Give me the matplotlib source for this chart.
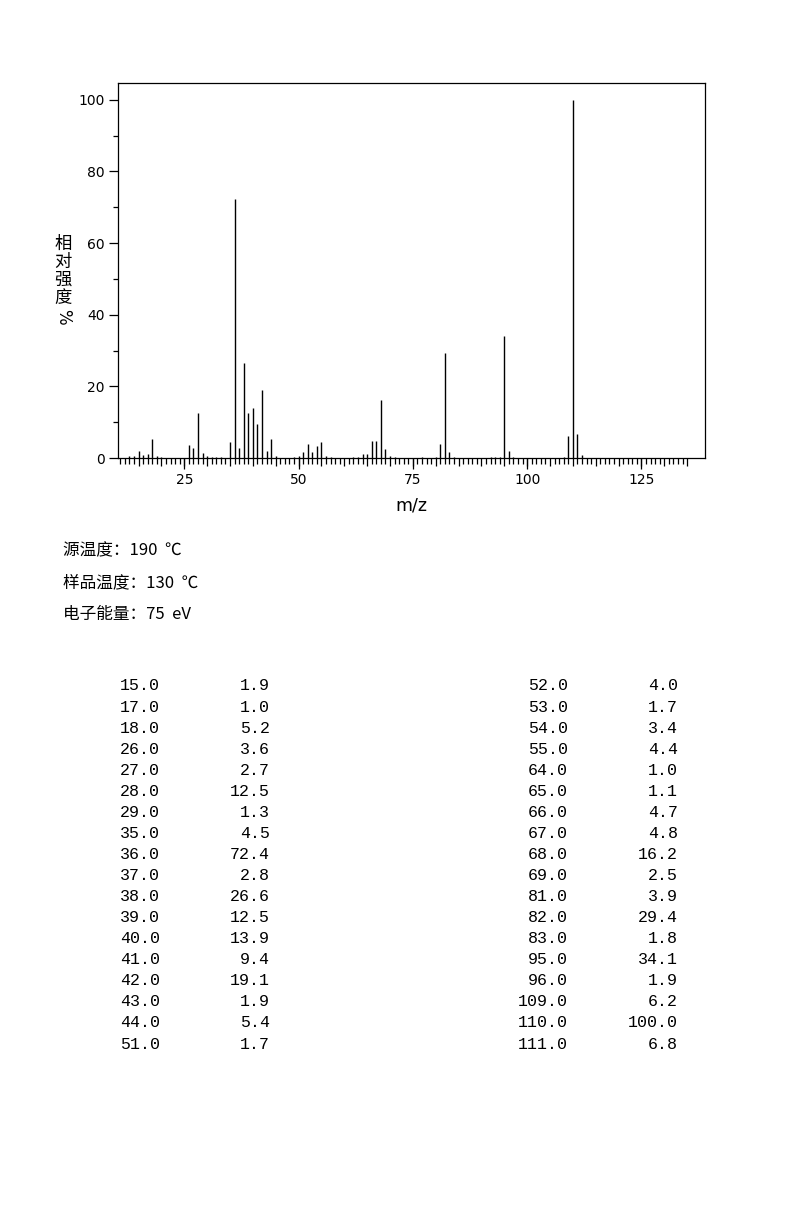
#!/usr/bin/env python3
"""Mass spectrum (EI) with peak table, redrawn with matplotlib."""

import numpy as np
import matplotlib
matplotlib.use("Agg")
import matplotlib.pyplot as plt
from matplotlib.ticker import FixedLocator, NullFormatter

# Peaks listed in the table (m/z, relative intensity %)
mz = [15, 17, 18, 26, 27, 28, 29, 35, 36, 37, 38, 39, 40, 41, 42, 43, 44, 51,
      52, 53, 54, 55, 64, 65, 66, 67, 68, 69, 81, 82, 83, 95, 96, 109, 110, 111]
rel = [1.9, 1.0, 5.2, 3.6, 2.7, 12.5, 1.3, 4.5, 72.4, 2.8, 26.6, 12.5, 13.9, 9.4, 19.1, 1.9, 5.4, 1.7,
       4.0, 1.7, 3.4, 4.4, 1.0, 1.1, 4.7, 4.8, 16.2, 2.5, 3.9, 29.4, 1.8, 34.1, 1.9, 6.2, 100.0, 6.8]

# Weak peaks drawn in the spectrum but not listed (estimated)
mz_weak = [13, 14, 16, 19, 20, 30, 31, 32, 33, 45, 49, 50, 56, 57, 62, 63, 70, 71,
           77, 80, 84, 92, 93, 94, 97, 108, 112]
rel_weak = [0.5, 0.6, 0.7, 0.5, 0.4, 0.5, 0.4, 0.4, 0.3, 0.5, 0.3, 0.5, 0.6, 0.3, 0.3, 0.3, 0.5, 0.2,
            0.2, 0.2, 0.3, 0.3, 0.3, 0.3, 0.3, 0.3, 0.7]

conditions = ["源温度：190  ℃", "样品温度：130  ℃", "电子能量：75  eV"]
ylabel_chars = ["相", "对", "强", "度"]

W, H = 794, 1219
CJK = ["Noto Sans CJK SC", "DejaVu Sans"]


def fx(px):
    return px / W


def fy(py):
    return 1 - py / H


fig = plt.figure(figsize=(W / 100, H / 100), dpi=100)
fig.patch.set_facecolor("white")
ax = fig.add_axes([fx(118), fy(458), fx(705) - fx(118), fy(83) - fy(458)])

ax.vlines(mz, 0, rel, colors="black", linewidth=1.0)
ax.vlines(mz_weak, 0, rel_weak, colors="black", linewidth=1.0)

ax.set_xlim(10.5, 138.9)
ax.set_ylim(0, 104.7)

for sp in ax.spines.values():
    sp.set_linewidth(0.9)

# x: minor every 1, medium every 5, long + labels every 25
ax.xaxis.set_major_locator(FixedLocator(np.arange(15, 136, 5)))
ax.xaxis.set_major_formatter(NullFormatter())
ax.xaxis.set_minor_locator(FixedLocator(np.arange(11, 136, 1)))
ax.tick_params(axis="x", which="major", direction="out", length=6, width=0.9)
ax.tick_params(axis="x", which="minor", direction="out", length=4, width=0.9)

sec = ax.secondary_xaxis("bottom")
sec.set_xticks([25, 50, 75, 100, 125])
sec.spines["bottom"].set_visible(False)
sec.tick_params(direction="out", length=8, width=0.9, labelsize=10, pad=3)

# y: labels every 20, minor every 10
ax.set_yticks([0, 20, 40, 60, 80, 100])
ax.yaxis.set_minor_locator(FixedLocator([10, 30, 50, 70, 90]))
ax.tick_params(axis="y", which="major", direction="out", length=6.5, width=0.9,
               labelsize=10, pad=3)
ax.tick_params(axis="y", which="minor", direction="out", length=3.5, width=0.9)

fig.text(fx(411), fy(506), "m/z", ha="center", va="center", fontsize=12.5)

# vertical y label
for i, ch in enumerate(ylabel_chars):
    fig.text(fx(63), fy(244 + i * 18), ch, ha="center", va="center",
             fontsize=12.5, family=CJK)
fig.text(fx(63), fy(317), "%", ha="center", va="center", fontsize=12,
         rotation=-90)

# acquisition conditions
for i, line in enumerate(conditions):
    fig.text(fx(63), fy(551 + i * 31.5), line, ha="left", va="center",
             fontsize=12, family=CJK)

# peak table, two columns of 18 rows
n_rows = 18
for i in range(len(mz)):
    col = i // n_rows
    row = i % n_rows
    y = fy(686 + row * 21.06)
    x_mz = 160 if col == 0 else 568
    x_int = 270 if col == 0 else 678
    fig.text(fx(x_mz), y, f"{mz[i]:.1f}", ha="right", va="center",
             fontsize=12, family="Liberation Mono")
    fig.text(fx(x_int), y, f"{rel[i]:.1f}", ha="right", va="center",
             fontsize=12, family="Liberation Mono")

fig.savefig("out.png", dpi=100, facecolor="white")
